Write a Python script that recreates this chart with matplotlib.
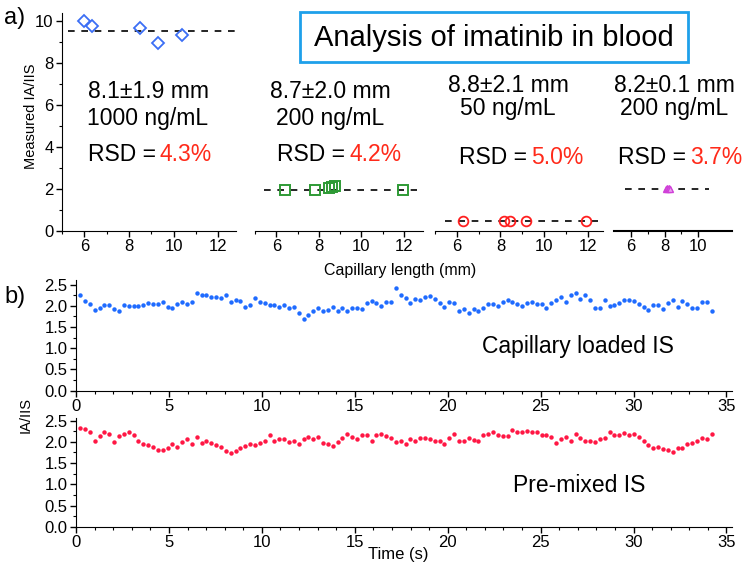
import numpy as np
import matplotlib
matplotlib.use("Agg")
import matplotlib.pyplot as plt
from matplotlib.patches import Rectangle

plt.rcParams['font.family'] = ['Liberation Sans', 'DejaVu Sans']

W, H = 745, 569

# ---- panel a) data: capillary length (mm) vs measured IA/IIS
len_1000 = [6.0, 6.35, 8.5, 9.3, 10.4]
val_1000 = [10.0, 9.8, 9.7, 8.95, 9.35]
mean_1000 = 9.55

len_200 = [6.4, 7.8, 8.5, 8.6, 8.75, 11.95]
val_200 = [1.95, 1.95, 2.05, 2.1, 2.15, 1.95]
mean_200 = 1.95

len_50 = [6.27, 8.17, 8.44, 9.16, 11.94]
val_50 = [0.48, 0.48, 0.48, 0.48, 0.48]
mean_50 = 0.48

len_200b = [8.1, 8.15, 8.2, 8.25, 8.3]
val_200b = [2.0, 2.03, 2.0, 2.04, 2.0]
mean_200b = 2.0

labels_len = ["8.1\u00b11.9 mm", "8.7\u00b12.0 mm", "8.8\u00b12.1 mm", "8.2\u00b10.1 mm"]
labels_conc = ["1000 ng/mL", "200 ng/mL", "50 ng/mL", "200 ng/mL"]
labels_rsd = ["4.3%", "4.2%", "5.0%", "3.7%"]

# ---- panel b) data: IA/IIS over time
capillary_is = [2.25, 2.12, 2.04, 1.91, 1.96, 2.03, 2.02, 1.93, 1.88, 2.02,
                1.99, 1.99, 1.99, 2.02, 2.06, 2.05, 2.05, 2.09, 1.98, 1.96,
                2.04, 2.08, 2.05, 2.09, 2.31, 2.26, 2.26, 2.21, 2.20, 2.18,
                2.25, 2.08, 2.15, 2.11, 1.98, 2.03, 2.19, 2.10, 2.06, 2.02,
                2.02, 1.97, 2.03, 1.95, 1.98, 1.84, 1.69, 1.79, 1.88, 1.94,
                1.89, 1.90, 1.98, 1.87, 1.96, 1.87, 1.94, 1.96, 1.92, 2.06,
                2.11, 2.07, 2.00, 2.09, 2.10, 2.43, 2.25, 2.19, 2.06, 2.16,
                2.13, 2.22, 2.24, 2.17, 2.06, 1.98, 2.10, 2.06, 1.88, 1.93,
                1.83, 1.92, 1.87, 1.96, 2.05, 2.05, 1.99, 2.10, 2.14, 2.09,
                2.05, 1.99, 2.06, 2.10, 2.04, 2.04, 1.94, 2.06, 2.13, 2.21,
                2.09, 2.25, 2.30, 2.17, 2.25, 2.13, 1.94, 1.96, 2.15, 2.00,
                2.03, 2.07, 2.15, 2.13, 2.12, 2.04, 1.98, 1.90, 2.03, 2.01,
                1.93, 2.07, 2.13, 1.98, 2.12, 2.04, 1.94, 1.94, 2.10, 2.09,
                1.89]
premixed_is = [2.32, 2.31, 2.24, 2.01, 2.14, 2.24, 2.18, 2.00, 2.14, 2.18,
               2.23, 2.17, 2.02, 1.95, 1.93, 1.89, 1.81, 1.81, 1.85, 1.96,
               1.89, 1.99, 2.06, 1.94, 2.11, 1.98, 2.03, 1.98, 1.92, 1.88,
               1.78, 1.73, 1.78, 1.85, 1.90, 1.94, 1.93, 1.98, 2.02, 2.15,
               2.03, 2.06, 2.06, 1.99, 2.02, 1.94, 2.06, 2.12, 2.06, 2.11,
               1.98, 1.94, 1.91, 2.00, 2.08, 2.19, 2.11, 2.07, 2.15, 2.15,
               2.03, 2.15, 2.18, 2.14, 2.10, 2.00, 2.02, 1.94, 2.07, 2.01,
               2.10, 2.10, 2.06, 2.02, 2.02, 1.94, 2.10, 2.18, 2.03, 2.02,
               2.10, 2.05, 2.02, 2.16, 2.19, 2.24, 2.17, 2.14, 2.14, 2.28,
               2.23, 2.24, 2.26, 2.24, 2.23, 2.15, 2.15, 2.11, 1.98, 2.06,
               2.11, 2.03, 2.19, 2.08, 2.03, 2.01, 2.00, 2.06, 2.10, 2.23,
               2.17, 2.15, 2.21, 2.15, 2.19, 2.12, 2.03, 1.92, 1.86, 1.88,
               1.83, 1.82, 1.77, 1.86, 1.86, 1.96, 1.98, 2.03, 2.10, 2.06,
               2.19]
time_s = np.linspace(0.22, 34.2, len(capillary_is))  # evenly sampled acquisition


def px(x0, y0, w, h):
    # pixel box (left, top, width, height) -> figure fraction rect
    return [x0 / W, 1 - (y0 + h) / H, w / W, h / H]


def ftext(x, y, s, **kw):
    fig.text(x / W, 1 - y / H, s, **kw)


fig = plt.figure(figsize=(W / 100, H / 100), dpi=100)

tick_kw = dict(labelsize=12, direction='out', length=4, width=1, pad=2)

# ---- top row
ax1 = fig.add_axes(px(62, 13, 174, 218))
ax2 = fig.add_axes(px(255, 13, 168, 218), sharey=ax1)
ax3 = fig.add_axes(px(435, 13, 168, 218), sharey=ax1)
ax4 = fig.add_axes(px(614, 13, 118, 218), sharey=ax1)

ax1.set_xlim(5.0, 12.8)
ax2.set_xlim(5.2, 12.9)
ax3.set_xlim(5.25, 12.7)
ax4.set_xlim(5.27, 10.6)
ax1.set_ylim(0, 10.4)

ax1.plot([5.25, 12.75], [mean_1000] * 2, ls=(0, (4, 4)), color='black', lw=1.2)
ax2.plot([5.4, 12.6], [mean_200] * 2, ls=(0, (4, 4)), color='black', lw=1.2)
ax3.plot([5.46, 12.46], [mean_50] * 2, ls=(0, (4, 4)), color='black', lw=1.2)
ax4.plot([5.67, 10.65], [mean_200b] * 2, ls=(0, (4, 4)), color='black', lw=1.2)

ax1.plot(len_1000, val_1000, 'D', mfc='none', mec='#3b6ef5', ms=6, mew=1.3)
ax2.plot(len_200, val_200, 's', mfc='none', mec='#2e9a35', ms=7, mew=1.4)
ax3.plot(len_50, val_50, 'o', mfc='none', mec='#ff2020', ms=7, mew=1.3)
ax4.plot(len_200b, val_200b, '^', mfc='#e9a0ef', mec='#d040d8', ms=5, mew=1.0)

for ax in (ax1, ax2, ax3, ax4):
    ax.spines['top'].set_visible(False)
    ax.spines['right'].set_visible(False)
    ax.set_xticks([6, 8, 10, 12])
    ax.set_xticks(np.arange(5, 13, 1), minor=True)
    ax.tick_params(axis='both', which='major', **tick_kw)
    ax.tick_params(axis='both', which='minor', direction='out', length=2, width=0.8)
    ax.set_facecolor('none')

ax4.set_xticks([6, 8, 10])
ax4.set_xticks(np.arange(6, 11, 1), minor=True)
ax1.set_yticks([0, 2, 4, 6, 8, 10])
ax1.set_yticks(np.arange(0, 11, 1), minor=True)
for ax in (ax2, ax3, ax4):
    ax.spines['left'].set_visible(False)
    ax.tick_params(axis='y', which='both', left=False, labelleft=False)
ax4.spines['bottom'].set_linewidth(1.5)

ftext(31, 116, 'Measured IA/IIS', ha='center', va='center', fontsize=10.5, rotation=90)

# annotations for panel a)
txt_x = [148, 330, 508, 674]
len_y = [92, 92, 86, 86]
conc_y = [118, 118, 108, 108]
rsd_split = [160, 349, 531, 690]
rsd_y = [155, 155, 157, 157]
for i in range(4):
    ftext(txt_x[i], len_y[i], labels_len[i], ha='center', va='center', fontsize=16.5)
    ftext(txt_x[i], conc_y[i], labels_conc[i], ha='center', va='center', fontsize=16.5)
    ftext(rsd_split[i] - 4, rsd_y[i], 'RSD =', ha='right', va='center', fontsize=16.5)
    ftext(rsd_split[i], rsd_y[i], labels_rsd[i], ha='left', va='center', fontsize=16.5,
          color='#ff2a1a')

ftext(4, 18, 'a)', ha='left', va='center', fontsize=17)
ftext(400, 270, 'Capillary length (mm)', ha='center', va='center', fontsize=11.5)

fig.patches.append(Rectangle((300 / W, 1 - 62 / H), 388 / W, 50 / H,
                             transform=fig.transFigure, fill=False,
                             edgecolor='#1ea0ea', lw=2))
ftext(494, 38, 'Analysis of imatinib in blood', ha='center', va='center', fontsize=21)

# ---- bottom rows
bx1 = fig.add_axes(px(76, 280, 656, 110.7))
bx2 = fig.add_axes(px(76, 418, 656, 109))

bx1.plot(time_s, capillary_is, 'o', color='#1f6bff', ms=3.2, mew=0)
bx2.plot(time_s, premixed_is, 'o', color='#ff1744', ms=3.2, mew=0)

bx1.set_ylim(0, 2.61)
bx2.set_ylim(0, 2.56)
for ax in (bx1, bx2):
    ax.set_xlim(0, 35.3)
    ax.spines['top'].set_visible(False)
    ax.spines['right'].set_visible(False)
    ax.set_xticks(np.arange(0, 36, 5))
    ax.set_xticks(np.arange(0, 36, 1), minor=True)
    ax.set_yticks(np.arange(0, 2.51, 0.5))
    ax.set_yticks(np.arange(0, 2.6, 0.25), minor=True)
    ax.yaxis.set_major_formatter(plt.FormatStrFormatter('%.1f'))
    ax.tick_params(axis='both', which='major', **tick_kw)
    ax.tick_params(axis='both', which='minor', direction='out', length=2, width=0.8)
    ax.set_facecolor('none')

ftext(4, 297, 'b)', ha='left', va='center', fontsize=17)
ftext(578, 346, 'Capillary loaded IS', ha='center', va='center', fontsize=16.5)
ftext(579, 486, 'Pre-mixed IS', ha='center', va='center', fontsize=16.5)
ftext(26, 415, 'IA/IIS', ha='center', va='center', fontsize=10.5, rotation=90)
ftext(398, 555, 'Time (s)', ha='center', va='center', fontsize=12)

fig.savefig('out.png', dpi=100)
